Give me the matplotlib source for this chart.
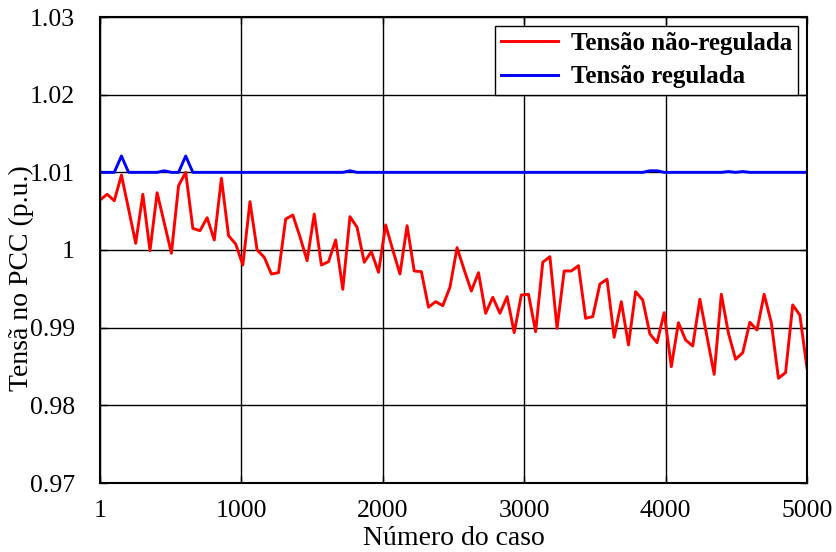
import numpy as np
import matplotlib
matplotlib.use("Agg")
import matplotlib.pyplot as plt
from matplotlib.ticker import FixedLocator, FixedFormatter

# Data (100 cases, evenly spaced from 1 to 5000)
unregulated = [
    1.00644, 1.00717, 1.00634, 1.00965, 1.00528, 1.00086, 1.00717, 0.99991, 1.00737, 1.00347,
    0.99958, 1.00828, 1.01000, 1.00279, 1.00248, 1.00416, 1.00129, 1.00923, 1.00184, 1.00077,
    0.99807, 1.00622, 1.00000, 0.99906, 0.99691, 0.99708, 1.00399, 1.00450, 1.00171, 0.99862,
    1.00463, 0.99807, 0.99849, 1.00129, 0.99494, 1.00429, 1.00292, 0.99842, 0.99978, 0.99713,
    1.00322, 1.00000, 0.99691, 1.00313, 0.99730, 0.99721, 0.99263, 0.99335, 0.99283, 0.99520,
    1.00030, 0.99743, 0.99472, 0.99708, 0.99185, 0.99391, 0.99185, 0.99399, 0.98936, 0.99421,
    0.99430, 0.98949, 0.99842, 0.99914, 0.98992, 0.99730, 0.99730, 0.99798, 0.99121, 0.99142,
    0.99562, 0.99623, 0.98876, 0.99335, 0.98777, 0.99463, 0.99356, 0.98919, 0.98807, 0.99193,
    0.98498, 0.99064, 0.98842, 0.98764, 0.99366, 0.98884, 0.98400, 0.99430, 0.98928, 0.98593,
    0.98678, 0.99069, 0.98970, 0.99430, 0.99064, 0.98349, 0.98421, 0.99292, 0.99163, 0.98478,
]

regulated = [1.0100] * 100
for idx, val in {3: 1.0121, 9: 1.0102, 12: 1.0121, 35: 1.0102,
                 77: 1.0102, 78: 1.0102, 88: 1.0101, 90: 1.0101}.items():
    regulated[idx] = val

cases = np.linspace(1, 5000, len(unregulated))

x_ticks = [1, 1000, 2000, 3000, 4000, 5000]
x_labels = ["1", "1000", "2000", "3000", "4000", "5000"]
y_ticks = [0.97, 0.98, 0.99, 1.00, 1.01, 1.02, 1.03]
y_labels = ["0.97", "0.98", "0.99", "1", "1.01", "1.02", "1.03"]

label_red = "Tensão não-regulada"
label_blue = "Tensão regulada"
xlabel = "Número do caso"
ylabel = "Tensã no PCC (p.u.)"

plt.rcParams['font.family'] = ['Liberation Serif', 'DejaVu Serif']

fig = plt.figure(figsize=(8.37, 5.52), dpi=100)
ax = fig.add_axes([100 / 837, 1 - 483 / 552, 707 / 837, 466 / 552])

ax.plot(cases, unregulated, color='#ff0000', lw=2.1, label=label_red)
ax.plot(cases, regulated, color='#0000ff', lw=2.1, label=label_blue)

ax.set_xlim(1, 5000)
ax.set_ylim(0.97, 1.03)
ax.xaxis.set_major_locator(FixedLocator(x_ticks))
ax.xaxis.set_major_formatter(FixedFormatter(x_labels))
ax.yaxis.set_major_locator(FixedLocator(y_ticks))
ax.yaxis.set_major_formatter(FixedFormatter(y_labels))

ax.grid(True, color='black', lw=1.0, ls='-')
ax.set_axisbelow(True)
ax.tick_params(direction='in', length=5, width=1, top=True, right=True,
               labelsize=18.5)
ax.tick_params(axis='x', pad=12)
ax.tick_params(axis='y', pad=18)
for s in ax.spines.values():
    s.set_linewidth(1.5)

ax.set_xlabel(xlabel, fontsize=20, labelpad=3)
ax.set_ylabel(ylabel, fontsize=20)
ax.yaxis.set_label_coords(-0.094, 0.44)

leg = ax.legend(loc='upper right', prop={'weight': 'bold', 'size': 18},
                frameon=True, fancybox=False, edgecolor='black', framealpha=1,
                borderaxespad=0.35, handlelength=2.3, borderpad=0.25,
                labelspacing=0.42, handletextpad=0.5)
leg.get_frame().set_linewidth(1.0)

fig.savefig("out.png", dpi=100)
